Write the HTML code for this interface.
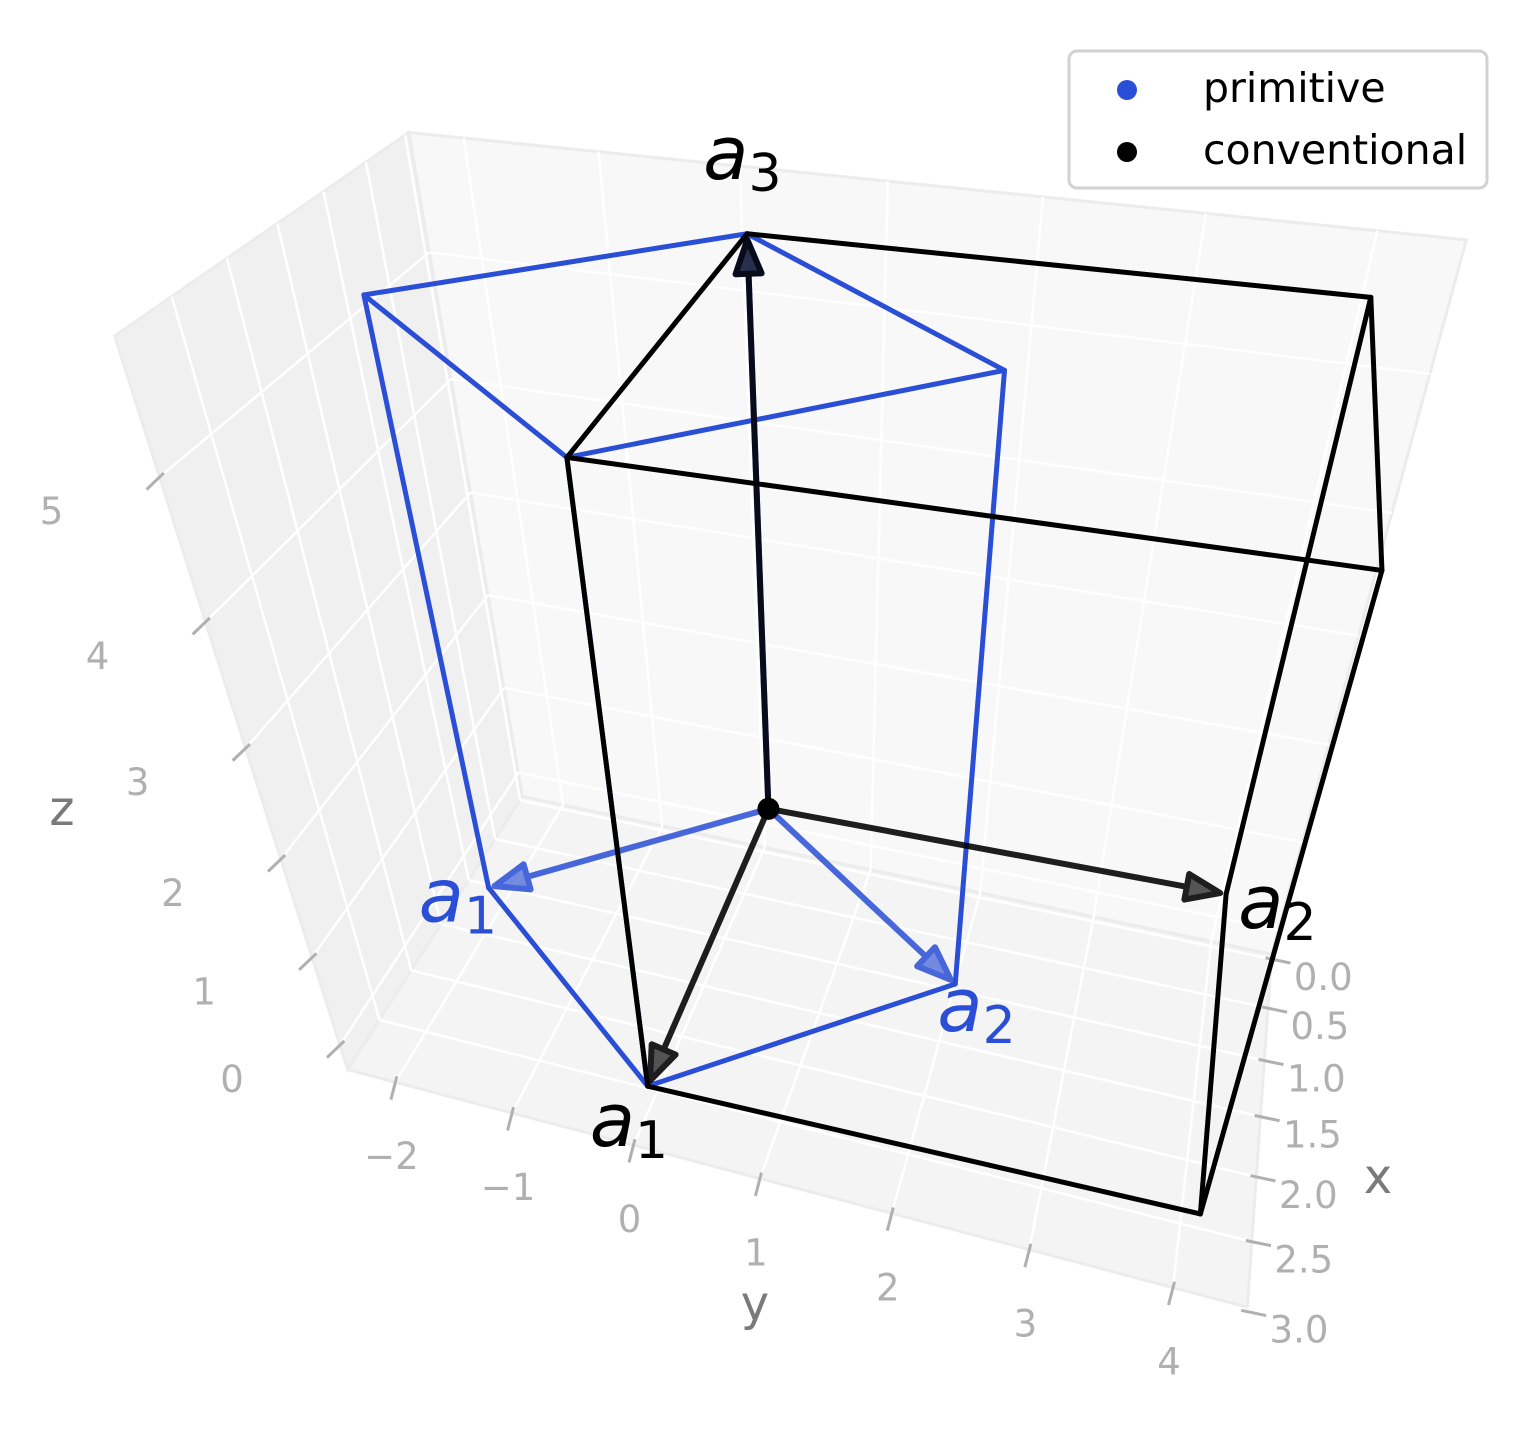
<!DOCTYPE html>
<html><head><meta charset="utf-8"><style>
html,body{margin:0;padding:0;background:#fff;}
svg{display:block;font-family:"DejaVu Sans","Liberation Sans",sans-serif;}
</style></head><body>
<svg id="chart" width="1537" height="1446" viewBox="0 0 1537 1446" xmlns="http://www.w3.org/2000/svg">
<g id="panes"></g>
<g id="grid"></g>
<g id="ticks"></g>
<g id="cells"></g>
<g id="labels"></g>
<text x="1378" y="1193" font-size="48" fill="#7a7a7a" text-anchor="middle">x</text>
<text x="755" y="1320" font-size="48" fill="#7a7a7a" text-anchor="middle">y</text>
<text x="62" y="825" font-size="48" fill="#7a7a7a" text-anchor="middle">z</text>
<g>
<rect x="1069" y="51" width="418" height="137" rx="8" fill="#fff" stroke="#d2d2d2" stroke-width="3"/>
<g>
<circle cx="1127" cy="90" r="10" fill="#2a4ed6"/>
<text x="1203" y="102" font-size="41" fill="#000">primitive</text></g>
<g>
<circle cx="1127" cy="152" r="10" fill="#000"/>
<text x="1203" y="164" font-size="41" fill="#000">conventional</text></g>
</g>
</svg>
<script>
// ---- data ----
const xTicks = [0.0, 0.5, 1.0, 1.5, 2.0, 2.5, 3.0];
const xTickLabels = ["0.0","0.5","1.0","1.5","2.0","2.5","3.0"];
const yTicks = [-2, -1, 0, 1, 2, 3, 4];
const yTickLabels = ["\u22122","\u22121","0","1","2","3","4"];
const zTicks = [0, 1, 2, 3, 4, 5];
const zTickLabels = ["0","1","2","3","4","5"];
const xLim = [-0.05, 2.97];
const yLim = [-2.42, 4.5];
const zLim = [-0.3, 5.85];
// lattice vectors in conventional fractional coordinates
const primitiveVectors = [[0.5,-0.5,0],[0.5,0.5,0],[0,0,1]];
const conventionalVectors = [[1,0,0],[0,1,0],[0,0,1]];

// ---- projection (camera fit) ----
function fitProjection(src, dst){
  const A=[], b=[];
  for(let i=0;i<src.length;i++){
    const [X,Y,Z]=src[i], [u,v]=dst[i];
    A.push([X,Y,Z,1,0,0,0,0,-u*X,-u*Y,-u*Z]); b.push(u);
    A.push([0,0,0,0,X,Y,Z,1,-v*X,-v*Y,-v*Z]); b.push(v);
  }
  const n=11, M=[], r=[];
  for(let i=0;i<n;i++){M.push(new Array(n).fill(0)); r.push(0);}
  for(let k=0;k<A.length;k++){
    for(let i=0;i<n;i++){ r[i]+=A[k][i]*b[k]; for(let j=0;j<n;j++) M[i][j]+=A[k][i]*A[k][j]; }
  }
  for(let i=0;i<n;i++) M[i][i]+=1e-9;
  for(let c=0;c<n;c++){
    let p=c; for(let i=c+1;i<n;i++) if(Math.abs(M[i][c])>Math.abs(M[p][c])) p=i;
    [M[c],M[p]]=[M[p],M[c]]; [r[c],r[p]]=[r[p],r[c]];
    for(let i=0;i<n;i++){ if(i===c) continue; const f=M[i][c]/M[c][c];
      for(let j=c;j<n;j++) M[i][j]-=f*M[c][j]; r[i]-=f*r[c]; }
  }
  const P=r.map((v,i)=>v/M[i][i]);
  return (X,Y,Z)=>{ const w=P[8]*X+P[9]*Y+P[10]*Z+1;
    return [(P[0]*X+P[1]*Y+P[2]*Z+P[3])/w,(P[4]*X+P[5]*Y+P[6]*Z+P[7])/w]; };
}
const boxProj = fitProjection(
  [[1,0,0],[1,0,1],[0,0,1],[0,0,0],[0,1,1],[0,1,0],[1,1,0]],
  [[345,1075],[105,350],[420,130],[522,786],[1462,230],[1266,975],[1258,1290]]);
function axP(x,y,z){
  return boxProj((x-xLim[0])/(xLim[1]-xLim[0]),(y-yLim[0])/(yLim[1]-yLim[0]),(z-zLim[0])/(zLim[1]-zLim[0]));
}
const latProj = fitProjection(
  [[0,0,0],[1,0,0],[0,1,0],[0,0,1],[1,1,0],[1,0,1],[0,1,1],[1,1,1]],
  [[768,810],[648,1085],[1225,893],[748,233],[1202,1215],[566,458],[1372,298],[1380,570]]);

const NS="http://www.w3.org/2000/svg";
function mk(parent,tag,attrs){const e=document.createElementNS(NS,tag);for(const k in attrs)e.setAttribute(k,attrs[k]);parent.appendChild(e);return e;}
const pts=a=>a.map(p=>p[0].toFixed(1)+","+p[1].toFixed(1)).join(" ");

// ---- panes ----
const gP=document.getElementById('panes');
const [x0,x1]=xLim,[y0,y1]=yLim,[z0,z1]=zLim;
let e;
e=mk(gP,'polygon',{points:pts([axP(x0,y0,z0),axP(x0,y1,z0),axP(x0,y1,z1),axP(x0,y0,z1)]),fill:'#f8f8f8',stroke:'#ececec','stroke-width':3});


e=mk(gP,'polygon',{points:pts([axP(x0,y0,z0),axP(x1,y0,z0),axP(x1,y0,z1),axP(x0,y0,z1)]),fill:'#f0f0f0',stroke:'#ececec','stroke-width':3});


e=mk(gP,'polygon',{points:pts([axP(x0,y0,z0),axP(x1,y0,z0),axP(x1,y1,z0),axP(x0,y1,z0)]),fill:'#f4f4f4',stroke:'#ececec','stroke-width':3});



// ---- grid ----
const gG=document.getElementById('grid');
function gl(a,b,name){const l=mk(gG,'line',{x1:a[0],y1:a[1],x2:b[0],y2:b[1],stroke:'#ffffff','stroke-width':2.5});

}
const inX=v=>v>=x0&&v<=x1, inY=v=>v>=y0&&v<=y1, inZ=v=>v>=z0&&v<=z1;
xTicks.filter(inX).forEach(v=>{gl(axP(v,y0,z0),axP(v,y1,z0),'grid-floor-x');gl(axP(v,y0,z0),axP(v,y0,z1),'grid-side-x');});
yTicks.filter(inY).forEach(v=>{gl(axP(x0,v,z0),axP(x1,v,z0),'grid-floor-y');gl(axP(x0,v,z0),axP(x0,v,z1),'grid-back-y');});
zTicks.filter(inZ).forEach(v=>{gl(axP(x0,y0,v),axP(x1,y0,v),'grid-side-z');gl(axP(x0,y0,v),axP(x0,y1,v),'grid-back-z');});

// ---- ticks ----
const gT=document.getElementById('ticks');
function tick(P,dir,len,lab,off,name){
  const l=mk(gT,'line',{x1:P[0]-dir[0]*6,y1:P[1]-dir[1]*6,x2:P[0]+dir[0]*len,y2:P[1]+dir[1]*len,stroke:'#b0b0b0','stroke-width':3});
  
  
  const t=mk(gT,'text',{x:P[0]+off[0],y:P[1]+off[1]+13,'font-size':37,fill:'#b0b0b0','text-anchor':'middle'});
  
  
  t.textContent=lab;
}
xTicks.forEach((v,i)=>tick(axP(v,y1,z0),[0.96,0.2],20,xTickLabels[i],[52,18],'x'));
yTicks.forEach((v,i)=>tick(axP(x1,v,z0),[-0.25,0.97],18,yTickLabels[i],[-4,74],'y'));
zTicks.forEach((v,i)=>tick(axP(x1,y0,v),[-0.72,0.69],18,zTickLabels[i],[-108,34],'z'));

// ---- unit cells ----
const gC=document.getElementById('cells');
function add(a,b){return [a[0]+b[0],a[1]+b[1],a[2]+b[2]];}
function cellEdges(v){
  const [a,b,c]=v;
  return [[a,add(a,b)],[a,add(a,c)],[b,add(a,b)],[b,add(b,c)],[c,add(a,c)],[c,add(b,c)],
          [add(a,b),add(add(a,b),c)],[add(a,c),add(add(a,b),c)],[add(b,c),add(add(a,b),c)]];
}
function drawEdges(vecs,color,name){
  cellEdges(vecs).forEach(([p,q])=>{
    const A=latProj(...p),B=latProj(...q);
    const l=mk(gC,'line',{x1:A[0],y1:A[1],x2:B[0],y2:B[1],stroke:color,'stroke-width':5,'stroke-linecap':'round'});
    
    
  });
}
function arrow(v,color,opacity,name){
  const A=latProj(0,0,0),B=latProj(...v);
  const dx=B[0]-A[0],dy=B[1]-A[1],L=Math.hypot(dx,dy),ux=dx/L,uy=dy/L;
  const tip=[B[0]-ux*6,B[1]-uy*6], base=[tip[0]-ux*34,tip[1]-uy*34];
  const g=mk(gC,'g',{opacity:opacity});
  
  
  mk(g,'line',{x1:A[0],y1:A[1],x2:base[0],y2:base[1],stroke:color,'stroke-width':6});
  mk(g,'polygon',{points:pts([tip,[base[0]-uy*13,base[1]+ux*13],[base[0]+uy*13,base[1]-ux*13]]),fill:color,'fill-opacity':0.75,stroke:color,'stroke-width':6,'stroke-linejoin':'round'});
}
drawEdges(primitiveVectors,'#2a4ed6','primitive');
primitiveVectors.forEach((v,i)=>arrow(v,'#2a4ed6',0.85,'primitive-arrow-a'+(i+1)));
drawEdges(conventionalVectors,'#000','conventional');
conventionalVectors.forEach((v,i)=>arrow(v,'#000',0.88,'conventional-arrow-a'+(i+1)));
e=mk(gC,'circle',{cx:latProj(0,0,0)[0],cy:latProj(0,0,0)[1],r:11,fill:'#000'});



// ---- vector labels ----
const gL=document.getElementById('labels');
function vlabel(v,idx,color,off,name){
  const P=latProj(...v);
  const t=mk(gL,'text',{x:P[0]+off[0],y:P[1]+off[1],'font-size':74,fill:color,'font-style':'italic'});
  
  
  t.appendChild(document.createTextNode('a'));
  const s=mk(t,'tspan',{'font-size':52,'font-style':'normal',dy:12});
  s.textContent=String(idx);
}
vlabel(primitiveVectors[0],1,'#2a4ed6',[-70,34],'primitive-label-a1');
vlabel(primitiveVectors[1],2,'#2a4ed6',[-18,47],'primitive-label-a2');
vlabel(conventionalVectors[0],1,'#000',[-58,60],'conventional-label-a1');
vlabel(conventionalVectors[1],2,'#000',[12,34],'conventional-label-a2');
vlabel(conventionalVectors[2],3,'#000',[-44,-55],'conventional-label-a3');
</script>
</body></html>
